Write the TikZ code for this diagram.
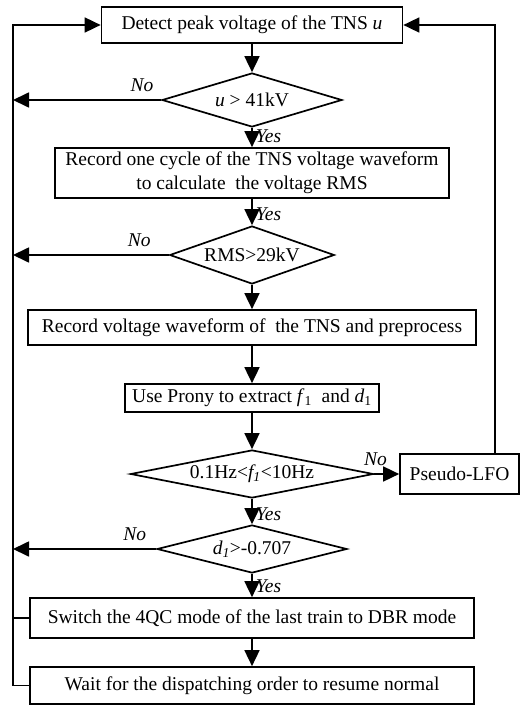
\documentclass[tikz,border=0pt]{standalone}
\usepackage{fontspec}
\setmainfont{Liberation Serif}
\usetikzlibrary{shapes.geometric,arrows.meta}

\newcommand{\chartfont}{\fontsize{19.5}{24}\selectfont}

\tikzset{
    procbox/.style={draw, line width=1.7pt, align=center, inner sep=0pt},
    decide/.style={draw, shape=diamond, line width=1.7pt, inner sep=0pt, aspect=5},
    arr/.style={line width=1.7pt, -{Triangle[length=16pt,width=15pt]}},
    link/.style={line width=1.7pt},
    lbl/.style={font=\chartfont\itshape, inner sep=3pt},
    nolbl/.style={lbl, above, yshift=4pt}
}

\begin{document}
\begin{tikzpicture}[x=1pt, y=-1pt, font=\chartfont]
    \useasboundingbox (0,0) rectangle (527,706);

    % process steps and decisions
    \node[procbox, minimum width=301pt, minimum height=36pt] (detect) at (252,25)
        {Detect peak voltage of the TNS \textit{u}};
    \node[decide, minimum width=180pt, minimum height=54pt] (peak) at (252,100)
        {\textit{u} > 41kV};
    \node[procbox, minimum width=394pt, minimum height=50pt] (cycle) at (252,173)
        {Record one cycle of the TNS voltage waveform\\to calculate \ the voltage RMS};
    \node[decide, minimum width=160pt, minimum height=58pt] (rms) at (252,255)
        {RMS>29kV};
    \node[procbox, minimum width=448pt, minimum height=35pt] (record) at (252,327.5)
        {Record voltage waveform of \ the TNS and preprocess};
    \node[procbox, minimum width=254pt, minimum height=28pt] (prony) at (252,398)
        {Use Prony to extract \textit{f}\textsubscript{1} \ and \textit{d}\textsubscript{1}};
    \node[decide, minimum width=243pt, minimum height=48pt] (freq) at (252,474)
        {0.1Hz<\textit{f\textsubscript{1}}<10Hz};
    \node[procbox, minimum width=119pt, minimum height=40pt] (pseudo) at (459.5,474)
        {Pseudo-LFO};
    \node[decide, minimum width=190pt, minimum height=48pt] (damp) at (252,549)
        {\textit{d\textsubscript{1}}>-0.707};
    \node[procbox, minimum width=444pt, minimum height=40pt] (switch) at (252,618)
        {Switch the 4QC mode of the last train to DBR mode};
    \node[procbox, minimum width=444pt, minimum height=37pt] (wait) at (252,685.5)
        {Wait for the dispatching order to resume normal};

    % return lines
    \coordinate (lx) at (13,0);
    \coordinate (rx) at (495,0);

    % main flow
    \draw[arr] (detect.south) -- (peak.north);
    \draw[arr] (peak.south) -- node[lbl, right, pos=0.45] {Yes} (cycle.north);
    \draw[arr] (cycle.south) -- node[lbl, right, pos=0.6] {Yes} (rms.north);
    \draw[arr] (rms.south) -- (record.north);
    \draw[arr] (record.south) -- (prony.north);
    \draw[arr] (prony.south) -- (freq.north);
    \draw[arr] (freq.south) -- node[lbl, right, pos=0.6] {Yes} (damp.north);
    \draw[arr] (damp.south) -- node[lbl, right, pos=0.55] {Yes} (switch.north);
    \draw[arr] (switch.south) -- (wait.north);

    % branches
    \draw[arr] (peak.west) -- node[nolbl, pos=0.13] {No} (peak.west -| lx);
    \draw[arr] (rms.west) -- node[nolbl, pos=0.19] {No} (rms.west -| lx);
    \draw[arr] (damp.west) -- node[nolbl, pos=0.15] {No} (damp.west -| lx);
    \draw[arr] (freq.east) -- node[nolbl, pos=0.05] {No} (pseudo.west);
    \draw[arr] (pseudo.north -| rx) -- (detect.east -| rx) -- (detect.east);
    \draw[link] (switch.west) -- (switch.west -| lx);
    \draw[arr] (wait.west) -- (wait.west -| lx) -- (detect.west -| lx) -- (detect.west);
\end{tikzpicture}
\end{document}
